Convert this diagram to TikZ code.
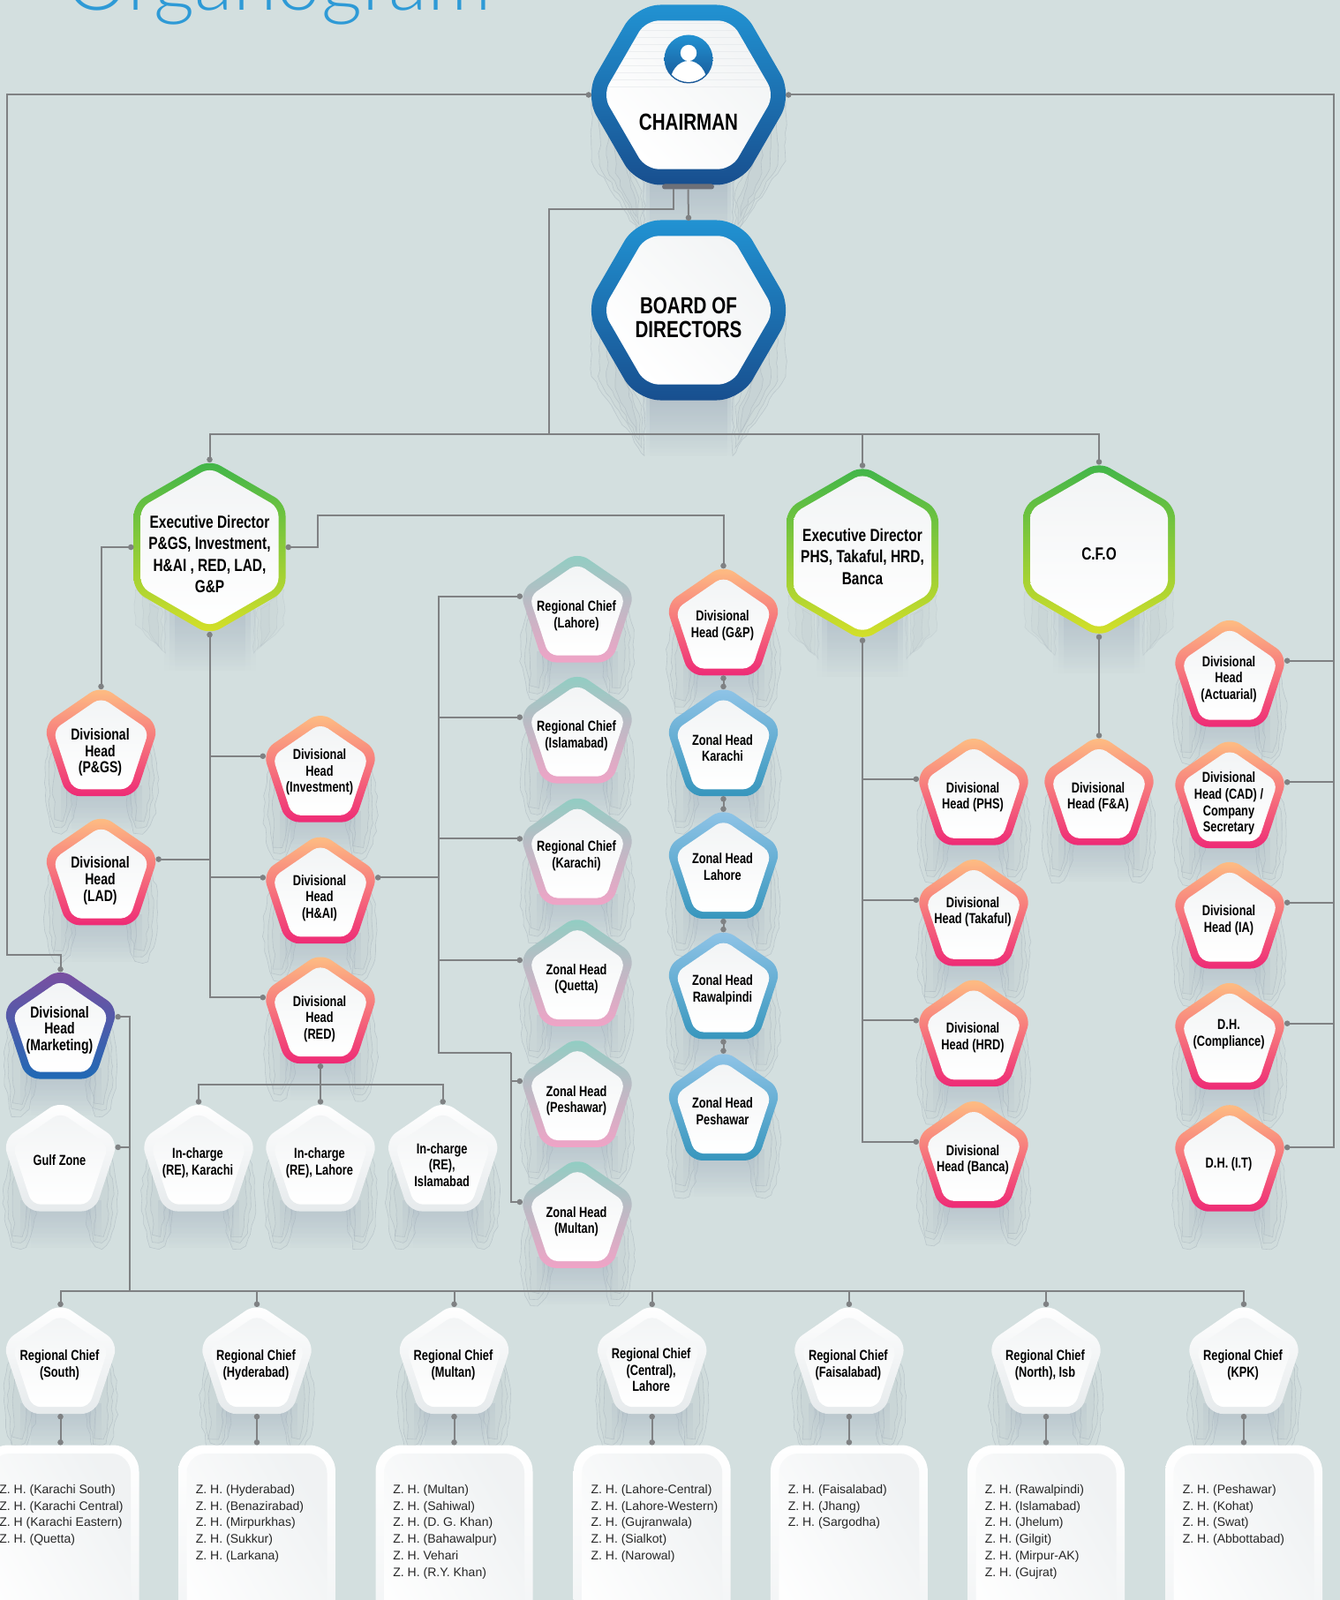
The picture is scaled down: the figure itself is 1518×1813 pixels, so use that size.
\documentclass[tikz,border=0pt]{standalone}
\usepackage{fontspec}
\usetikzlibrary{arrows.meta,fadings,decorations.pathmorphing}
\setmainfont{Liberation Sans}
\newfontfamily\condfont[FakeStretch=0.78]{Liberation Sans Bold}
\newfontfamily\titlefont{Lato Light}
\newcommand\bigp{\fontsize{9}{9.3}\selectfont}
\definecolor{bgc}{HTML}{D3DFDF}
\definecolor{linec}{HTML}{7F8183}
\definecolor{barc}{HTML}{6E7078}
\definecolor{shadc}{HTML}{A3B1BF}
\definecolor{lobec}{HTML}{AAB6BE}
\definecolor{orT}{HTML}{FEC283}\definecolor{orB}{HTML}{EE2A76}
\definecolor{tpT}{HTML}{8ECFC3}\definecolor{tpB}{HTML}{F0A3C6}
\definecolor{blT}{HTML}{92C5E8}\definecolor{blB}{HTML}{3796BD}
\definecolor{mkT}{HTML}{7D4EA0}\definecolor{mkB}{HTML}{1F69B5}
\definecolor{wtT}{HTML}{FFFFFF}\definecolor{wtB}{HTML}{E6EAEC}
\definecolor{hxT}{HTML}{2192D2}\definecolor{hxB}{HTML}{184F8F}
\definecolor{grT}{HTML}{3FB54A}\definecolor{grB}{HTML}{D7E028}
\definecolor{inT}{HTML}{F2F4F5}
\definecolor{titlec}{HTML}{2E9AD6}
\pgfdeclarelayer{bg}\pgfsetlayers{bg,main}
\tikzset{
 conn/.style={draw=linec,line width=1pt,line cap=butt},
 dA/.style={{Circle[length=3.2pt,width=3.2pt]}-},
 dB/.style={-{Circle[length=3.2pt,width=3.2pt]}},
 dAB/.style={{Circle[length=3.2pt,width=3.2pt]}-{Circle[length=3.2pt,width=3.2pt]}},
 pentbox/.style={rectangle,minimum width=62pt,minimum height=60.5pt,inner sep=0pt,outer sep=0pt},
 hexbox/.style={rectangle,minimum width=110pt,minimum height=101.5pt,inner sep=0pt,outer sep=0pt},
 edbox/.style={rectangle,minimum width=86pt,minimum height=96pt,inner sep=0pt,outer sep=0pt},
 ptext/.style={align=center,inner sep=0pt,font=\condfont\fontsize{8.2}{9.3}\selectfont},
 edtext/.style={align=center,inner sep=0pt,font=\condfont\fontsize{9.9}{12.2}\selectfont},
 hxtext/.style={align=center,inner sep=0pt,font=\condfont\fontsize{13.2}{13.4}\selectfont},
 ztext/.style={align=left,anchor=north west,inner sep=0pt,text=black!85,font=\fontsize{7}{9.35}\selectfont},
 whitein/.style={top color=inT,bottom color=white},
 tracery/.style={draw=lobec,line width=.3pt,draw opacity=.55,fill=lobec,fill opacity=.07,decorate,
   decoration={random steps,segment length=4pt,amplitude=.8pt}},
}
\newcommand\pentpath{(0,-65) -- (65.5,-20) -- (39,60.5) -- (-39,60.5) -- (-65.5,-20) -- cycle}
\newcommand\hexpath{(-118,0) -- (-59,-102) -- (59,-102) -- (118,0) -- (59,102) -- (-59,102) -- cycle}
\newcommand\edpath{(0,-99.3) -- (86,-49.65) -- (86,49.65) -- (0,99.3) -- (-86,49.65) -- (-86,-49.65) -- cycle}
% mottled drop shadow under a pentagon
\newcommand\lobes[2]{%
 \begin{pgfonlayer}{bg}
 \begin{scope}[shift={(#1,#2)}]
 \foreach \s in {-1,1}{\foreach \rx/\ry in {18/56,13/49,8/42}{
   \path[tracery] (\s*46,46) ellipse [x radius=\rx,y radius=\ry];}}
 \foreach \w/\o in {46/.2,40/.22,34/.32}{\fill[shadc,opacity=\o,path fading=south] (-\w,48) rectangle (\w,102);}
 \end{scope}
 \end{pgfonlayer}}
% #1 text offset, #2 name, #3 x, #4 y, #5 top, #6 bottom, #7 text
\newcommand\penta[7][4]{%
 \lobes{#3}{#4}
 \path[shift={(#3,#4)},rounded corners=7.5pt,top color=#5,bottom color=#6] \pentpath;
 \path[shift={(#3,#4+2.5)},scale=.83,rounded corners=5pt,whitein] \pentpath;
 \node[pentbox] (#2) at (#3,#4) {};
 \node[ptext] (#2t) at (#3-1,#4+#1) {#7};
}
\newcommand\hexa[5]{% offset,name,x,y,text
 \begin{pgfonlayer}{bg}
 \begin{scope}[shift={(#3,#4)}]
 \foreach \s in {-1,1}{\foreach \d in {0,9,18,27}{
   \path[tracery] (\s*110-\s*\d,10+\d) -- (\s*110-\s*\d,75+\d/2) -- (\s*50+\s*\d/3,165-\d) -- (\s*50+\s*\d/3,100+\d) -- cycle;}}
 \foreach \w/\o in {52/.2,48/.3,44/.4}{\fill[shadc,opacity=\o,path fading=south] (-\w,90) rectangle (\w,165);}
 \end{scope}
 \end{pgfonlayer}
 \path[shift={(#3,#4)},rounded corners=13.5pt,top color=hxT,bottom color=hxB] \hexpath;
 \path[shift={(#3,#4)},scale=.825,rounded corners=7.5pt,left color=white,right color=inT,shading angle=135] \hexpath;
 \node[hexbox] (#2) at (#3,#4) {};
 \node[hxtext] (#2t) at (#3,#4+#1) {#5};
}
\newcommand\edhex[5]{% offset,name,x,y,text
 \begin{pgfonlayer}{bg}
 \begin{scope}[shift={(#3,#4)}]
 \foreach \s in {-1,1}{\foreach \d in {0,8,16}{
   \path[tracery,draw opacity=.25] (\s*84-\s*\d,48+\d) -- (\s*84-\s*\d,88+\d/2) -- (\s*50+\s*\d/2,120-\d/2) -- (\s*50+\s*\d/2,70) -- cycle;}}
 \foreach \w/\o in {52/.2,46/.25,40/.3}{\fill[shadc,opacity=\o,path fading=south] (-\w,70) rectangle (\w,140);}
 \end{scope}
 \end{pgfonlayer}
 \path[shift={(#3,#4)},rounded corners=7pt,top color=grT,bottom color=grB] \edpath;
 \path[shift={(#3,#4)},scale=.907,rounded corners=5pt,top color=inT,bottom color=white] \edpath;
 \node[edbox] (#2) at (#3,#4) {};
 \node[edtext] (#2t) at (#3,#4+#1) {#5};
}
\newcommand\zonebox[3]{% name,x,text
 \path[rounded corners=15pt,top color=white,bottom color=inT!70!wtB] (#2-89,1637.5) rectangle (#2+89,1900);
 \path[rounded corners=11pt,left color=white,right color=inT!80!wtB,shading angle=120] (#2-79.5,1647) rectangle (#2+79.5,1900);
 \node[rectangle,minimum width=89pt,minimum height=131pt,inner sep=0pt,outer sep=0pt] (#1) at (#2,1768.5) {};
 \node[ztext] (#1t) at (#2-69.5,1682) {#3};
}
\begin{document}
\begin{tikzpicture}[x=0.5pt,y=-0.5pt]
\useasboundingbox (0,0) rectangle (1518,1813);
\begin{pgfonlayer}{bg}
\fill[bgc] (0,0) rectangle (1518,1813);
\end{pgfonlayer}
% title
\node[anchor=base west,inner sep=0pt,text=titlec,font=\titlefont\fontsize{45}{45}\selectfont] (title) at (74,12) {Organogram};
% top hexagons
\hexa{31}{chair}{780}{107.5}{CHAIRMAN}
\hexa{8.5}{board}{780}{351.5}{BOARD OF\\DIRECTORS}
% stripes and icon in the chairman hexagon
\begin{scope}
\clip[shift={(780,107.5)},scale=.825,rounded corners=7.5pt] \hexpath;
\foreach \yy in {27,35,...,99}{\draw[inT!75!lobec,line width=.5pt,opacity=.5] (660,\yy) -- (900,\yy);}
\end{scope}
\begin{scope}
\path[top color=hxT,bottom color=hxB!90!hxT] (780,67) circle [radius=27.5];
\clip (780,67) circle [radius=26];
\fill[white] (780,60) circle [radius=9.2];
\fill[white] (780,95) ellipse [x radius=21,y radius=26];
\end{scope}
\node[rectangle,rounded corners=1.5pt,fill=barc,minimum width=29.5pt,minimum height=3pt,inner sep=0pt,outer sep=0pt] (bar) at (779.5,211.5) {};
% executive hexagons
\edhex{8}{edone}{237.5}{620}{Executive Director\\P\&GS, Investment,\\H\&AI , RED, LAD,\\G\&P}
\edhex{4}{edtwo}{977}{626.6}{Executive Director\\PHS, Takaful, HRD,\\Banca}
\edhex{5}{cfo}{1245}{622.6}{C.F.O}
% pentagons
\penta[11]{pgs}{114.5}{841.6}{orT}{orB}{\bigp Divisional\\\bigp Head\\\bigp (P\&GS)}
\penta[10]{lad}{114.5}{987.9}{orT}{orB}{\bigp Divisional\\\bigp Head\\\bigp (LAD)}
\penta[4]{inv}{363}{871.1}{orT}{orB}{Divisional\\Head\\(Investment)}
\penta[9]{hai}{363}{1008.7}{orT}{orB}{Divisional\\Head\\(H\&AI)}
\penta[10]{red}{363}{1144.5}{orT}{orB}{Divisional\\Head\\(RED)}
\penta[8]{rla}{654}{690}{tpT}{tpB}{Regional Chief\\(Lahore)}
\penta[7]{ris}{654}{827}{tpT}{tpB}{Regional Chief\\(Islamabad)}
\penta[5]{rka}{654}{964.8}{tpT}{tpB}{Regional Chief\\(Karachi)}
\penta[7]{zqu}{654}{1102.3}{tpT}{tpB}{Zonal Head\\(Quetta)}
\penta[8]{zpe}{654}{1239.3}{tpT}{tpB}{Zonal Head\\(Peshawar)}
\penta[8]{zmu}{654}{1376.3}{tpT}{tpB}{Zonal Head\\(Multan)}
\penta[4]{gnp}{819.5}{704.8}{orT}{orB}{Divisional\\Head (G\&P)}
\penta[6]{zka}{819.5}{841.6}{blT}{blB}{Zonal Head\\Karachi}
\penta[2]{zla}{819.5}{980.4}{blT}{blB}{Zonal Head\\Lahore}
\penta[5]{zra}{819.5}{1116.8}{blT}{blB}{Zonal Head\\Rawalpindi}
\penta[5]{zpw}{819.5}{1254.4}{blT}{blB}{Zonal Head\\Peshawar}
\penta[6]{phs}{1103}{897.1}{orT}{orB}{Divisional\\Head (PHS)}
\penta[-1]{tak}{1103}{1034.1}{orT}{orB}{Divisional\\Head (Takaful)}
\penta[5]{hrd}{1103}{1170.6}{orT}{orB}{Divisional\\Head (HRD)}
\penta[6]{ban}{1103}{1308.1}{orT}{orB}{Divisional\\Head (Banca)}
\penta[6]{fna}{1245}{897.1}{orT}{orB}{Divisional\\Head (F\&A)}
\penta[6.5]{act}{1393}{763}{orT}{orB}{Divisional\\Head\\(Actuarial)}
\penta[10]{cad}{1393}{900.6}{orT}{orB}{Divisional\\Head (CAD) /\\Company\\Secretary}
\penta[6]{iad}{1393}{1037}{orT}{orB}{Divisional\\Head (IA)}
\penta[-2]{com}{1393}{1174}{orT}{orB}{D.H.\\(Compliance)}
\penta[7]{itd}{1393}{1312.2}{orT}{orB}{D.H. (I.T)}
\penta[5]{mkt}{68.5}{1162}{mkT}{mkB}{\bigp Divisional\\\bigp Head\\\bigp (Marketing)}
\penta[3]{gul}{68.5}{1312}{wtT}{wtB}{Gulf Zone}
\penta[6]{ick}{225}{1312}{wtT}{wtB}{In-charge\\(RE), Karachi}
\penta[6]{icl}{363}{1312}{wtT}{wtB}{In-charge\\(RE), Lahore}
\penta[8]{ici}{501.7}{1312}{wtT}{wtB}{In-charge\\(RE),\\Islamabad}
\penta[5]{rso}{68.5}{1541.5}{wtT}{wtB}{Regional Chief\\(South)}
\penta[5]{rhy}{291}{1541.5}{wtT}{wtB}{Regional Chief\\(Hyderabad)}
\penta[5]{rmu}{514.5}{1541.5}{wtT}{wtB}{Regional Chief\\(Multan)}
\penta[11]{rce}{738.7}{1541.5}{wtT}{wtB}{Regional Chief\\(Central),\\Lahore}
\penta[5]{rfa}{961.9}{1541.5}{wtT}{wtB}{Regional Chief\\(Faisalabad)}
\penta[5]{rno}{1185}{1541.5}{wtT}{wtB}{Regional Chief\\(North), Isb}
\penta[5]{rkp}{1409}{1541.5}{wtT}{wtB}{Regional Chief\\(KPK)}
% zone boxes
\zonebox{bso}{68.5}{Z. H. (Karachi South)\\Z. H. (Karachi Central)\\Z. H (Karachi Eastern)\\Z. H. (Quetta)}
\zonebox{bhy}{291}{Z. H. (Hyderabad)\\Z. H. (Benazirabad)\\Z. H. (Mirpurkhas)\\Z. H. (Sukkur)\\Z. H. (Larkana)}
\zonebox{bmu}{514.5}{Z. H. (Multan)\\Z. H. (Sahiwal)\\Z. H. (D. G. Khan)\\Z. H. (Bahawalpur)\\Z. H. Vehari\\Z. H. (R.Y. Khan)}
\zonebox{bce}{738.7}{Z. H. (Lahore-Central)\\Z. H. (Lahore-Western)\\Z. H. (Gujranwala)\\Z. H. (Sialkot)\\Z. H. (Narowal)}
\zonebox{bfa}{961.9}{Z. H. (Faisalabad)\\Z. H. (Jhang)\\Z. H. (Sargodha)}
\zonebox{bno}{1185}{Z. H. (Rawalpindi)\\Z. H. (Islamabad)\\Z. H. (Jhelum)\\Z. H. (Gilgit)\\Z. H. (Mirpur-AK)\\Z. H. (Gujrat)}
\zonebox{bkp}{1409}{Z. H. (Peshawar)\\Z. H. (Kohat)\\Z. H. (Swat)\\Z. H. (Abbottabad)}
% bend points
\coordinate (trunkL) at (7.5,1082);
\coordinate (trunkR) at (1511,100);
\coordinate (barL) at (763,214);
\coordinate (barJ) at (622.3,237);
\coordinate (busT) at (622.3,491.7);
\coordinate (jog) at (359.5,584);
\coordinate (hub) at (497,994);
\coordinate (hubB) at (579,1193);
\coordinate (redbus) at (363,1229);
\coordinate (mbus) at (147,1463);
% connectors
\draw[conn,dAB] (chair.west) -| (trunkL) -| (mkt.north);
\draw[conn,dAB] (chair.east) -| (trunkR |- itd.11) -- (itd.11);
\foreach \n in {act,cad,iad,com}{\draw[conn,dA] (\n.13) -- (trunkR |- \n.13);}
\draw[conn,dB] (bar.south) -- (board.north);
\draw[conn] (barL) |- (barJ) -- (busT);
\foreach \n in {edone,edtwo,cfo}{\draw[conn,dB] (busT) -| (\n.north);}
\draw[conn,dAB] (edone.west) -| (pgs.north);
\draw[conn,dAB] (edone.east) -| (jog) -| (gnp.north);
\draw[conn,dAB] (edone.south) |- (red.167);
\foreach \n in {inv,hai}{\draw[conn,dA] (\n.167) -| (edone.south);}
\draw[conn,dA] (lad.13) -| (edone.south);
\draw[conn,dA] (hai.13) -- (hub |- hai.13);
\foreach \n in {rla,ris,rka,zqu}{\draw[conn,dA] (\n.167) -| (hub);}
\draw[conn] (hub) |- (hubB);
\draw[conn,dB] (hubB) |- (zmu.167);
\draw[conn,dA] (zpe.167) -| (hubB);
\draw[conn,dAB] (gnp.south) -- (zka.north);
\draw[conn,dAB] (zka.south) -- (zla.north);
\draw[conn,dAB] (zla.south) -- (zra.north);
\draw[conn,dAB] (zra.south) -- (zpw.north);
\draw[conn,dAB] (edtwo.south) |- (ban.167);
\foreach \n in {phs,tak,hrd}{\draw[conn,dA] (\n.167) -| (edtwo.south);}
\draw[conn,dAB] (cfo.south) -- (fna.north);
\draw[conn,dAB] (red.south) -- (icl.north);
\draw[conn,dB] (redbus) -| (ick.north);
\draw[conn,dB] (redbus) -| (ici.north);
\draw[conn,dA] (mkt.9) -| (mbus);
\draw[conn,dA] (gul.11) -- (mbus |- gul.11);
\foreach \n in {rso,rhy,rmu,rce,rfa,rno,rkp}{\draw[conn,dB] (mbus) -| (\n.north);}
\draw[conn,dAB] (rso.south) -- (bso.north);
\draw[conn,dAB] (rhy.south) -- (bhy.north);
\draw[conn,dAB] (rmu.south) -- (bmu.north);
\draw[conn,dAB] (rce.south) -- (bce.north);
\draw[conn,dAB] (rfa.south) -- (bfa.north);
\draw[conn,dAB] (rno.south) -- (bno.north);
\draw[conn,dAB] (rkp.south) -- (bkp.north);
\end{tikzpicture}
\end{document}
